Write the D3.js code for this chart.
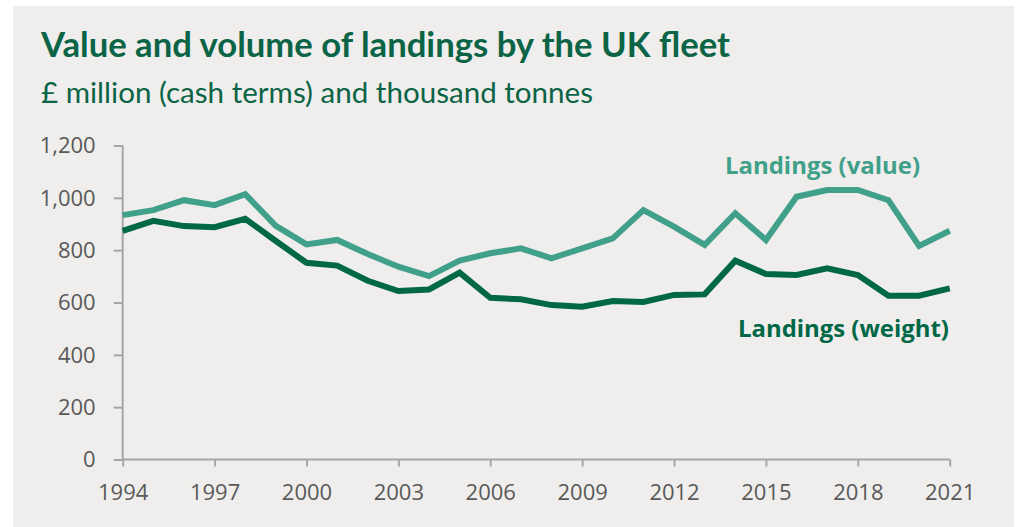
<!DOCTYPE html>
<html>
<head>
<meta charset="utf-8">
<script src="https://cdn.jsdelivr.net/npm/d3@7"></script>
<style>
  html, body { margin: 0; padding: 0; background: #ffffff; }
  svg { display: block; }
</style>
</head>
<body>
<svg id="chart" width="1018" height="527"></svg>
<script>
// Landings by the UK fleet, 1994–2021
const years = d3.range(1994, 2022);
const valueSeries = [934, 953, 991, 972, 1014, 893, 822, 839, 785, 737, 701, 760, 788, 807, 769, 807, 845, 953, 890, 820, 941, 839, 1004, 1030, 1030, 991, 816, 874];
const weightSeries = [874, 912, 892, 888, 920, 835, 752, 741, 683, 644, 650, 714, 618, 612, 590, 584, 606, 602, 629, 631, 760, 709, 705, 731, 705, 626, 626, 654];
const yTicks = [0, 200, 400, 600, 800, 1000, 1200];
const xTicks = [1994, 1997, 2000, 2003, 2006, 2009, 2012, 2015, 2018, 2021];
const seriesNames = ["Landings (value)", "Landings (weight)"];

const colValue = "#40a08a";
const colWeight = "#006747";
const colTitle = "#0b6446";
const colAxis = "#a6a6a6";
const colTick = "#595959";

const svg = d3.select("#chart");

// panel background
svg.append("rect").attr("x", 13).attr("y", 6).attr("width", 1001).attr("height", 521)
  .attr("fill", "#efeeec");

// fit text to a target width by adjusting font-size
function fitWidth(sel, target) {
  const w = sel.node().getComputedTextLength();
  const fs = parseFloat(sel.attr("font-size"));
  sel.attr("font-size", (fs * target / w).toFixed(2));
}

const title = svg.append("text").attr("x", 41).attr("y", 57)
  .attr("font-family", "Lato, 'Open Sans', sans-serif").attr("font-weight", 700)
  .attr("font-size", 29).attr("fill", colTitle)
  .text("Value and volume of landings by the UK fleet");
fitWidth(title, 689);

const subtitle = svg.append("text").attr("x", 41).attr("y", 103)
  .attr("font-family", "Lato, 'Open Sans', sans-serif").attr("font-weight", 400)
  .attr("font-size", 25).attr("fill", colTitle)
  .text("£ million (cash terms) and thousand tonnes");
fitWidth(subtitle, 552);

const x = d3.scaleLinear().domain([1994, 2021]).range([122.7, 949.7]);
const y = d3.scaleLinear().domain([0, 1200]).range([459.5, 145.5]);

const tickFont = "'Open Sans', 'Noto Sans', sans-serif";

// y axis
const yAxis = svg.append("g").attr("transform", `translate(${x.range()[0]},0)`)
  .call(d3.axisLeft(y).tickValues(yTicks).tickSize(9).tickPadding(18)
    .tickFormat(d3.format(",")));
yAxis.select(".domain").attr("stroke", colAxis).attr("stroke-width", 2)
  .attr("d", `M0,${y(1200)}V${y(0)}`);
yAxis.selectAll(".tick line").attr("stroke", colAxis).attr("stroke-width", 2);
yAxis.selectAll(".tick text").attr("fill", colTick).attr("font-size", 22)
  .attr("font-family", tickFont).attr("dy", "0.34em");

// x axis
const xAxis = svg.append("g").attr("transform", `translate(0,${y(0)})`)
  .call(d3.axisBottom(x).tickValues(xTicks).tickSize(7).tickPadding(18)
    .tickFormat(d3.format("d")));
xAxis.select(".domain").attr("stroke", colAxis).attr("stroke-width", 2)
  .attr("d", `M${x(1994)},0H${x(2021)}`);
xAxis.selectAll(".tick line").attr("stroke", colAxis).attr("stroke-width", 2);
xAxis.selectAll(".tick text").attr("fill", colTick).attr("font-size", 22)
  .attr("font-family", tickFont);
svg.selectAll(".domain").attr("fill", "none");

// lines
const line = d3.line().x((d, i) => x(years[i])).y(d => y(d));
svg.append("path").datum(valueSeries).attr("d", line)
  .attr("fill", "none").attr("stroke", colValue).attr("stroke-width", 6)
  .attr("stroke-linejoin", "miter").attr("stroke-linecap", "butt");
svg.append("path").datum(weightSeries).attr("d", line)
  .attr("fill", "none").attr("stroke", colWeight).attr("stroke-width", 6)
  .attr("stroke-linejoin", "miter").attr("stroke-linecap", "butt");

// series labels
const lv = svg.append("text").attr("x", 725).attr("y", 174)
  .attr("font-family", tickFont).attr("font-weight", 700).attr("font-size", 22)
  .attr("fill", colValue).text(seriesNames[0]);
fitWidth(lv, 195);
const lw = svg.append("text").attr("x", 738).attr("y", 337)
  .attr("font-family", tickFont).attr("font-weight", 700).attr("font-size", 22)
  .attr("fill", colWeight).text(seriesNames[1]);
fitWidth(lw, 211);
</script>
</body>
</html>
